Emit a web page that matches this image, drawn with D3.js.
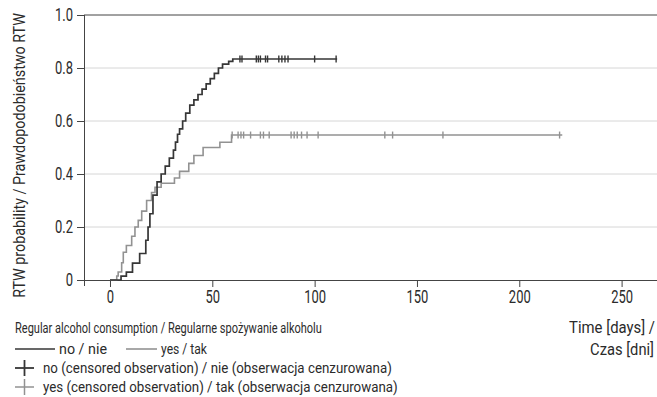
<!DOCTYPE html>
<html>
<head>
<meta charset="utf-8">
<script src="https://cdn.jsdelivr.net/npm/d3@7"></script>
<style>
  body { margin: 0; background: #fff; }
  svg { display: block; }
  text { font-family: Roboto, "Liberation Sans", sans-serif; fill: #2b2b2b; }
</style>
</head>
<body>
<svg id="chart" width="657" height="397"></svg>
<script>
// event times (days) and cumulative RTW probability after each step
const noTimes = [5.4, 8, 11, 14.5, 17.5, 18.6, 19.5, 21, 23, 25, 27, 29, 31, 32, 33, 34, 35.5, 37, 39, 41, 43, 45, 47, 49, 51, 53, 55, 58, 60];
const noProb  = [0.015, 0.03, 0.064, 0.10, 0.15, 0.20, 0.25, 0.32, 0.37, 0.40, 0.43, 0.46, 0.49, 0.52, 0.55, 0.57, 0.60, 0.63, 0.66, 0.68, 0.70, 0.72, 0.74, 0.76, 0.78, 0.80, 0.815, 0.825, 0.834];
const noCensored = [63.5, 64.5, 71.5, 72.5, 73.5, 76, 77, 82.5, 84, 85.5, 87, 100, 110.5];
const noEnd = 111;

const yesTimes = [3.3, 4, 5.7, 6.5, 8, 10.6, 12.2, 13.8, 15.5, 17.9, 20.3, 22, 25, 31.5, 34, 38.5, 41, 45.5, 53.7, 59.4];
const yesProb  = [0.015, 0.03, 0.065, 0.105, 0.13, 0.165, 0.20, 0.225, 0.26, 0.30, 0.33, 0.35, 0.365, 0.385, 0.41, 0.44, 0.47, 0.50, 0.52, 0.547];
const yesCensored = [59.7, 62.6, 64, 65.3, 68.7, 73.5, 75, 77.8, 88.5, 90, 91.5, 93.6, 96.3, 101.7, 134.3, 138.1, 162.7, 219.7];
const yesEnd = 221;

const xTicks = [0, 50, 100, 150, 200, 250];
const yTicks = [0, 0.2, 0.4, 0.6, 0.8, 1.0];

const darkColor = "#363636";
const lightColor = "#929292";

const svg = d3.select("#chart");

// squeeze a text horizontally to the given width, anchored at (x, y)
function placeText(parent, str, x, y, size, width, anchor, rotate) {
  const t = parent.append("text")
    .attr("text-anchor", anchor || "start")
    .style("font-size", size + "px")
    .text(str);
  const k = width / t.node().getComputedTextLength();
  t.attr("transform", `translate(${x},${y})${rotate ? " rotate(" + rotate + ")" : ""} scale(${k},1)`);
  return t;
}

const x = d3.scaleLinear().domain([-12.7, 267.3]).range([84, 657]);
const y = d3.scaleLinear().domain([0, 1]).range([280, 15]);

// gridlines
svg.append("g")
  .selectAll("line")
  .data(yTicks.filter(d => d > 0 && d < 1))
  .enter().append("line")
  .attr("x1", x.range()[0]).attr("x2", x.range()[1])
  .attr("y1", d => y(d)).attr("y2", d => y(d))
  .attr("stroke", "#d6d6d6").attr("stroke-width", 1);

// top frame line
svg.append("line")
  .attr("x1", x.range()[0]).attr("x2", x.range()[1])
  .attr("y1", y(1)).attr("y2", y(1))
  .attr("stroke", "#444").attr("stroke-width", 1);

// axes
const xAxis = svg.append("g")
  .attr("transform", `translate(0,${y(0)})`)
  .call(d3.axisBottom(x).tickValues(xTicks).tickSize(7).tickSizeOuter(0).tickPadding(3));
xAxis.select(".domain").attr("stroke", "#444").attr("d", `M82,0.5H657`);
xAxis.selectAll(".tick line").attr("stroke", "#444");
xAxis.selectAll(".tick text").style("font-size", "18px").attr("fill", "#2b2b2b")
  .attr("transform", "scale(0.72,1)");

const yAxis = svg.append("g")
  .attr("transform", `translate(${x.range()[0]},0)`)
  .call(d3.axisLeft(y).tickValues(yTicks).tickSize(7).tickSizeOuter(0).tickPadding(4)
    .tickFormat(d => d === 0 ? "0" : d3.format(".1f")(d)));
yAxis.select(".domain").attr("stroke", "#444").attr("d", `M0.5,${y(1)}V${y(0) + 6}`);
yAxis.selectAll(".tick line").attr("stroke", "#444");
yAxis.selectAll(".tick text").style("font-size", "18px").attr("fill", "#2b2b2b")
  .attr("x", 0).attr("transform", "translate(-11,0) scale(0.72,1)");

// step curves
function stepPoints(times, probs, end) {
  const pts = [[0, 0]];
  times.forEach((t, i) => pts.push([t, probs[i]]));
  pts.push([end, probs[probs.length - 1]]);
  return pts;
}

function probAt(times, probs, t) {
  let p = 0;
  times.forEach((tt, i) => { if (tt <= t) p = probs[i]; });
  return p;
}

const line = d3.line()
  .x(d => x(d[0]))
  .y(d => y(d[1]))
  .curve(d3.curveStepAfter);

const groups = [
  { times: yesTimes, probs: yesProb, censored: yesCensored, end: yesEnd, color: lightColor, width: 1.6 },
  { times: noTimes, probs: noProb, censored: noCensored, end: noEnd, color: darkColor, width: 1.7 }
];

groups.forEach(g => {
  svg.append("path")
    .datum(stepPoints(g.times, g.probs, g.end))
    .attr("fill", "none")
    .attr("stroke", g.color)
    .attr("stroke-width", g.width)
    .attr("d", line);

  svg.append("g")
    .selectAll("line")
    .data(g.censored)
    .enter().append("line")
    .attr("x1", d => x(d)).attr("x2", d => x(d))
    .attr("y1", d => y(probAt(g.times, g.probs, d)) - 3.5)
    .attr("y2", d => y(probAt(g.times, g.probs, d)) + 3.5)
    .attr("stroke", g.color)
    .attr("stroke-width", 1.4);
});

// y axis title
placeText(svg, "RTW probability / Prawdopodobieństwo RTW", 25, 155.5, 16, 285, "middle", -90);

// x axis title
placeText(svg, "Time [days] /", 655, 333, 17, 86, "end");
placeText(svg, "Czas [dni]", 654, 355, 17, 64, "end");

// legend
const legend = svg.append("g");
placeText(legend, "Regular alcohol consumption / Regularne spożywanie alkoholu", 15, 333, 15, 307);

legend.append("line")
  .attr("x1", 15).attr("x2", 55).attr("y1", 349).attr("y2", 349)
  .attr("stroke", darkColor).attr("stroke-width", 1.7);
placeText(legend, "no / nie", 59, 354, 15, 48);

legend.append("line")
  .attr("x1", 126).attr("x2", 157).attr("y1", 349).attr("y2", 349)
  .attr("stroke", lightColor).attr("stroke-width", 1.6);
placeText(legend, "yes / tak", 161, 354, 15, 46);

const crossRows = [
  { cy: 368, color: darkColor, w: 1.8, width: 349, label: "no (censored observation) / nie (obserwacja cenzurowana)" },
  { cy: 387, color: lightColor, w: 1.5, width: 355, label: "yes (censored observation) / tak (obserwacja cenzurowana)" }
];
crossRows.forEach(r => {
  legend.append("line").attr("x1", 15).attr("x2", 34).attr("y1", r.cy).attr("y2", r.cy)
    .attr("stroke", r.color).attr("stroke-width", r.w);
  legend.append("line").attr("x1", 24.5).attr("x2", 24.5).attr("y1", r.cy - 8).attr("y2", r.cy + 8)
    .attr("stroke", r.color).attr("stroke-width", r.w);
  placeText(legend, r.label, 43, r.cy + 5, 15, r.width);
});
</script>
</body>
</html>
